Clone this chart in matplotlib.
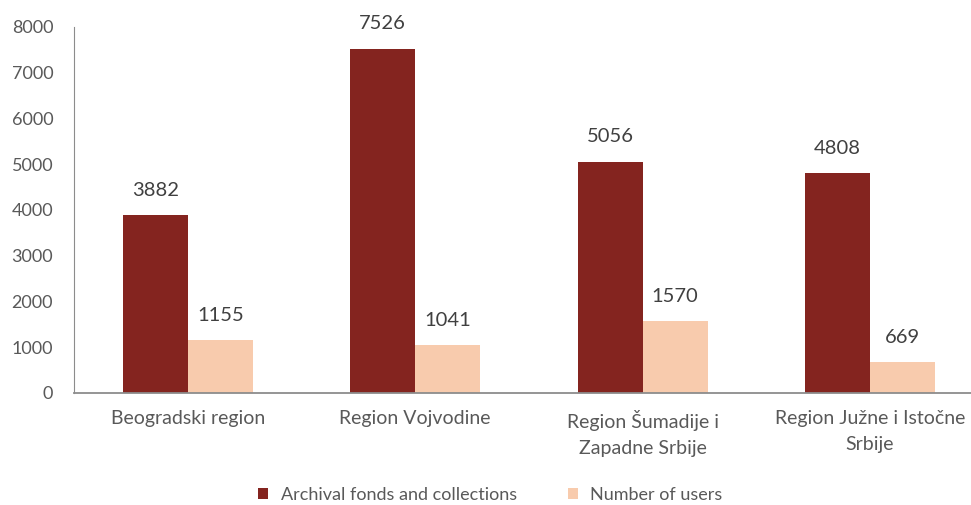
import matplotlib
matplotlib.use("Agg")
import matplotlib.pyplot as plt
import numpy as np

# data
regions = ["Beogradski region", "Region Vojvodine",
           "Region Šumadije i\nZapadne Srbije", "Region Južne i Istočne\nSrbije"]
fonds = [3882, 7526, 5056, 4808]
users = [1155, 1041, 1570, 669]
series_names = ["Archival fonds and collections", "Number of users"]

dark = "#84241F"
light = "#F8CBAD"
text_gray = "#595959"

plt.rcParams["font.family"] = ["Lato", "DejaVu Sans"]

fig = plt.figure(figsize=(9.71, 5.05), dpi=100)
ax = fig.add_axes([0.0762, 0.2218, 0.937, 0.7248])

x = np.arange(len(regions))
w = 0.286
b1 = ax.bar(x - w / 2, fonds, w, color=dark, label=series_names[0])
b2 = ax.bar(x + w / 2, users, w, color=light, label=series_names[1])

for bars, vals in ((b1, fonds), (b2, users)):
    for rect, v in zip(bars, vals):
        ax.annotate(str(v), (rect.get_x() + rect.get_width() / 2, rect.get_height()),
                    xytext=(0, 18), textcoords="offset points",
                    ha="center", va="center", fontsize=14.5, color="#404040")

ax.set_xlim(-0.5, 3.5)
ax.set_ylim(0, 8000)
ax.set_yticks(range(0, 8001, 1000))
ax.set_xticks(x)
ax.set_xticklabels(regions, linespacing=1.65)
ax.tick_params(axis="both", length=0, colors=text_gray)
ax.tick_params(axis="x", pad=12, labelsize=14)
ax.tick_params(axis="y", pad=15, labelsize=13)

for side in ("top", "right"):
    ax.spines[side].set_visible(False)
ax.spines["left"].set_color("#8c8c8c")
ax.spines["bottom"].set_color("#8c8c8c")
ax.spines["bottom"].set_linewidth(1.3)

fig.legend(loc="center", bbox_to_anchor=(0.505, 0.02), ncol=2, frameon=False,
           fontsize=13, handlelength=0.55, handleheight=0.55, handletextpad=0.7,
           columnspacing=2.8, labelcolor=text_gray)

fig.savefig("out.png", dpi=100)
